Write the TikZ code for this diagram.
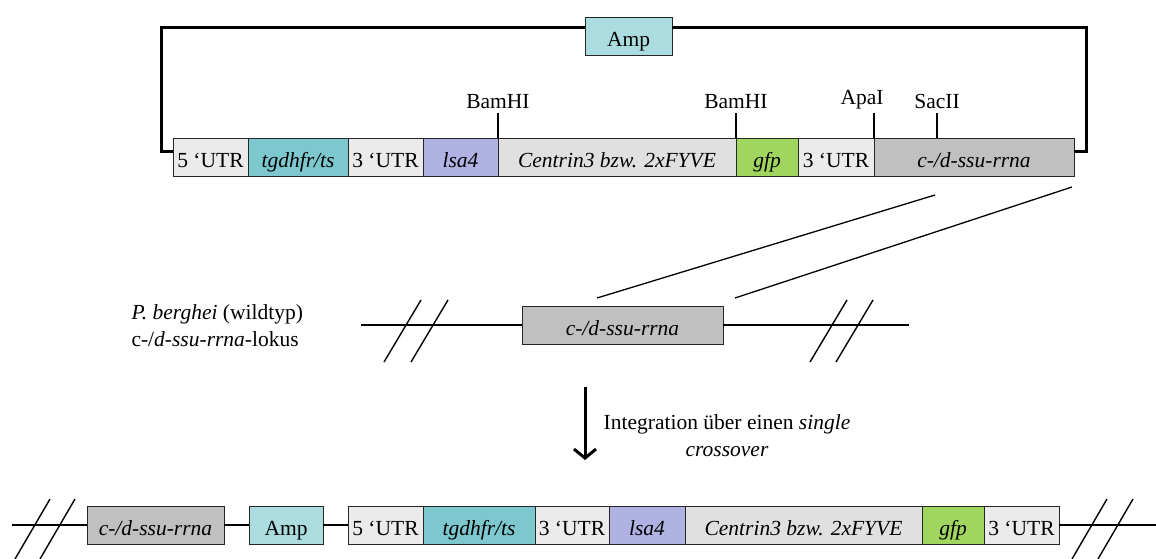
\documentclass[tikz,border=0pt]{standalone}
\usepackage{fontspec}
\setmainfont{Liberation Serif}
\usetikzlibrary{positioning,arrows.meta}
\definecolor{utrgray}{RGB}{235,235,235}
\definecolor{dhfrteal}{RGB}{125,200,206}
\definecolor{lsaviolet}{RGB}{176,178,228}
\definecolor{centringray}{RGB}{224,224,224}
\definecolor{gfpgreen}{RGB}{160,214,96}
\definecolor{ssugray}{RGB}{192,192,192}
\definecolor{ampcyan}{RGB}{170,220,224}
\tikzset{
  every node/.style={font=\fontsize{21.5}{27}\selectfont},
  gene/.style={draw=black!85, line width=0.9pt, minimum height=38pt, inner sep=0pt, outer sep=0pt,
    text height=21pt, text depth=0pt, anchor=west},
  backbone/.style={line width=3pt},
  locus/.style={line width=2.5pt},
  cut/.style={line width=1.4pt},
  homol/.style={line width=1.3pt},
  site/.style={line width=1.1pt},
  integ/.style={line width=3pt, -{Straight Barb[length=9pt,width=22pt]}}
}
\begin{document}
\begin{tikzpicture}[x=1pt,y=-1pt]
\useasboundingbox (0,0) rectangle (1156,559);

% Vektor
\node[gene, fill=ampcyan, minimum width=87pt] (ampA) at (585,36) {Amp};
\node[gene, fill=utrgray, minimum width=75pt] (utrA) at (173,157) {5 ‘UTR};
\node[gene, fill=dhfrteal, minimum width=100pt, right=0pt of utrA] (dhfrA) {\textit{tgdhfr/ts}};
\node[gene, fill=utrgray, minimum width=75pt, right=0pt of dhfrA] (utrAb) {3 ‘UTR};
\node[gene, fill=lsaviolet, minimum width=75pt, right=0pt of utrAb] (lsaA) {\textit{lsa4}};
\node[gene, fill=centringray, minimum width=238pt, right=0pt of lsaA] (cenA) {\textit{Centrin3 bzw. 2xFYVE}};
\node[gene, fill=gfpgreen, minimum width=62pt, right=0pt of cenA] (gfpA) {\textit{gfp}};
\node[gene, fill=utrgray, minimum width=76pt, right=0pt of gfpA] (utrAc) {3 ‘UTR};
\node[gene, fill=ssugray, minimum width=200pt, right=0pt of utrAc] (ssuA) {\textit{c-/d-ssu-rrna}};

\draw[backbone] ([yshift=-13pt]utrA.north west) -- ++(-12,0) |- ([yshift=8pt]ampA.west);
\draw[backbone] ([yshift=8pt]ampA.east) -| ([xshift=12pt,yshift=-13pt]ssuA.north east) -- ([yshift=-13pt]ssuA.north east);

\draw[site] (lsaA.north east) -- ++(0,-25) node[above] {BamHI};
\draw[site] (gfpA.north west) -- ++(0,-25) node[above] {BamHI};
\draw[site] (utrAc.north east) -- ++(0,-25) node[above, xshift=-12pt] {ApaI};
\draw[site] ([xshift=63pt]ssuA.north west) -- ++(0,-25) node[above] {SacII};

% Wildtyp-Lokus
\node[align=left, anchor=west] (wtlabel) at (128,326) {\textit{P. berghei} (wildtyp)\\c-/\textit{d-ssu-rrna}-lokus};
\node[gene, fill=ssugray, minimum width=201pt] (ssuB) at (522,325) {\textit{c-/d-ssu-rrna}};
\coordinate (locL) at (361,325);
\coordinate (locR) at (909,325);
\draw[locus] (locL) -- (ssuB.west);
\draw[locus] (ssuB.east) -- (locR);
\foreach \x in {384,411,810,836} {
    \draw[cut] (\x,362) -- ++(37,-62);
}
\draw[homol] ([shift={(75,-8)}]ssuB.north west) -- ([shift={(61,19)}]ssuA.south west);
\draw[homol] ([shift={(12,-8)}]ssuB.north east) -- ([shift={(-2,11)}]ssuA.south east);

% Integration
\coordinate (arrT) at (585,387);
\coordinate (arrB) at (585,460);
\draw[integ] (arrT) -- (arrB);
\node[align=center] (integtext) at (727,436) {Integration über einen \textit{single}\\\textit{crossover}};

% integrierter Lokus
\node[gene, fill=ssugray, minimum width=137pt] (ssuC) at (87,525) {\textit{c-/d-ssu-rrna}};
\node[gene, fill=ampcyan, minimum width=74pt] (ampC) at (249,525) {Amp};
\node[gene, fill=utrgray, minimum width=75pt] (utrC) at (348,525) {5 ‘UTR};
\node[gene, fill=dhfrteal, minimum width=112pt, right=0pt of utrC] (dhfrC) {\textit{tgdhfr/ts}};
\node[gene, fill=utrgray, minimum width=74pt, right=0pt of dhfrC] (utrCb) {3 ‘UTR};
\node[gene, fill=lsaviolet, minimum width=76pt, right=0pt of utrCb] (lsaC) {\textit{lsa4}};
\node[gene, fill=centringray, minimum width=237pt, right=0pt of lsaC] (cenC) {\textit{Centrin3 bzw. 2xFYVE}};
\node[gene, fill=gfpgreen, minimum width=62pt, right=0pt of cenC] (gfpC) {\textit{gfp}};
\node[gene, fill=utrgray, minimum width=75pt, right=0pt of gfpC] (utrCc) {3 ‘UTR};
\coordinate (intL) at (12,525);
\coordinate (intR) at (1156,525);
\draw[locus] (intL) -- (ssuC.west);
\draw[locus] (ssuC.east) -- (ampC.west);
\draw[locus] (ampC.east) -- (utrC.west);
\draw[locus] (utrCc.east) -- (intR);
\foreach \x in {15,40,1072,1098} {
    \draw[cut] (\x,559) -- ++(35,-60);
}
\end{tikzpicture}
\end{document}
